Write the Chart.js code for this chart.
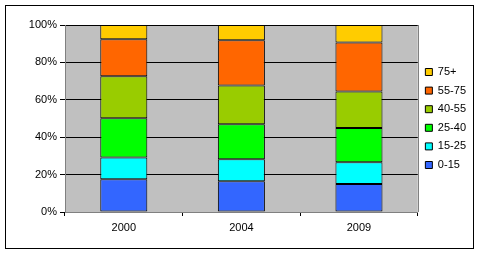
<!DOCTYPE html>
<html>
<head>
<meta charset="utf-8">
<script src="https://cdn.jsdelivr.net/npm/chart.js@4"></script>
<style>
  body { margin: 0; background: #fff; }
  #wrap { width: 481px; height: 256px; }
</style>
</head>
<body>
<div id="wrap"><canvas id="ageChart" width="481" height="256"></canvas></div>
<script>
const years = ['2000', '2004', '2009'];
const groups = ['0-15', '15-25', '25-40', '40-55', '55-75', '75+'];
const colors = ['#3366FF', '#00FFFF', '#00FF00', '#99CC00', '#FF6600', '#FFCC00'];

// share of each age group per year, in %
const age0_15  = [17.5, 16.4, 15.0];
const age15_25 = [11.7, 11.8, 11.6];
const age25_40 = [20.9, 18.7, 18.3];
const age40_55 = [22.5, 20.8, 19.6];
const age55_75 = [19.8, 24.1, 26.2];
const age75    = [7.6, 8.2, 9.3];
const series = [age0_15, age15_25, age25_40, age40_55, age55_75, age75];

const yTicks = [0, 20, 40, 60, 80, 100];

const plotBg = {
  id: 'plotBg',
  beforeDraw(chart) {
    const { ctx, chartArea: a } = chart;
    ctx.save();
    ctx.fillStyle = '#C0C0C0';
    ctx.fillRect(a.left, a.top, a.right - a.left, a.bottom - a.top);
    ctx.restore();
  },
  afterDraw(chart) {
    const { ctx, chartArea: a } = chart;
    ctx.save();
    ctx.strokeStyle = '#808080';
    ctx.lineWidth = 1;
    ctx.beginPath();
    ctx.moveTo(Math.round(a.right) + 0.5, a.top);
    ctx.lineTo(Math.round(a.right) + 0.5, a.bottom);
    ctx.stroke();
    ctx.strokeStyle = '#000';
    ctx.strokeRect(5.5, 5.5, 468, 243);
    ctx.restore();
  }
};

Chart.defaults.font.family = '"Liberation Sans", Arial, sans-serif';
Chart.defaults.font.size = 11;
Chart.defaults.color = '#000';

new Chart(document.getElementById('ageChart'), {
  type: 'bar',
  data: {
    labels: years,
    datasets: groups.map((g, i) => ({
      label: g,
      data: series[i],
      backgroundColor: colors[i],
      borderColor: '#000',
      borderWidth: 1,
      borderSkipped: false,
      barPercentage: 0.4,
      categoryPercentage: 1
    }))
  },
  options: {
    responsive: false,
    animation: false,
    layout: { padding: { top: 25, left: 0, right: 5, bottom: 0 } },
    plugins: {
      tooltip: { enabled: false },
      legend: {
        position: 'right',
        fullSize: false,
        reverse: true,
        labels: { boxWidth: 7, boxHeight: 7, padding: 7.6, color: '#000' }
      }
    },
    scales: {
      x: {
        stacked: true,
        grid: { offset: true, drawOnChartArea: false, color: '#000', tickLength: 4 },
        border: { color: '#808080' },
        ticks: { padding: 5 },
        afterFit: s => { s.height = 44; }
      },
      y: {
        stacked: true,
        min: 0,
        max: 100,
        afterBuildTicks: s => { s.ticks = yTicks.map(v => ({ value: v })); },
        ticks: { callback: v => v + '%', padding: 3 },
        grid: { color: '#000', tickLength: 5 },
        border: { color: '#808080' },
        afterFit: s => { s.width = 65; }
      }
    }
  },
  plugins: [plotBg]
});
</script>
</body>
</html>
